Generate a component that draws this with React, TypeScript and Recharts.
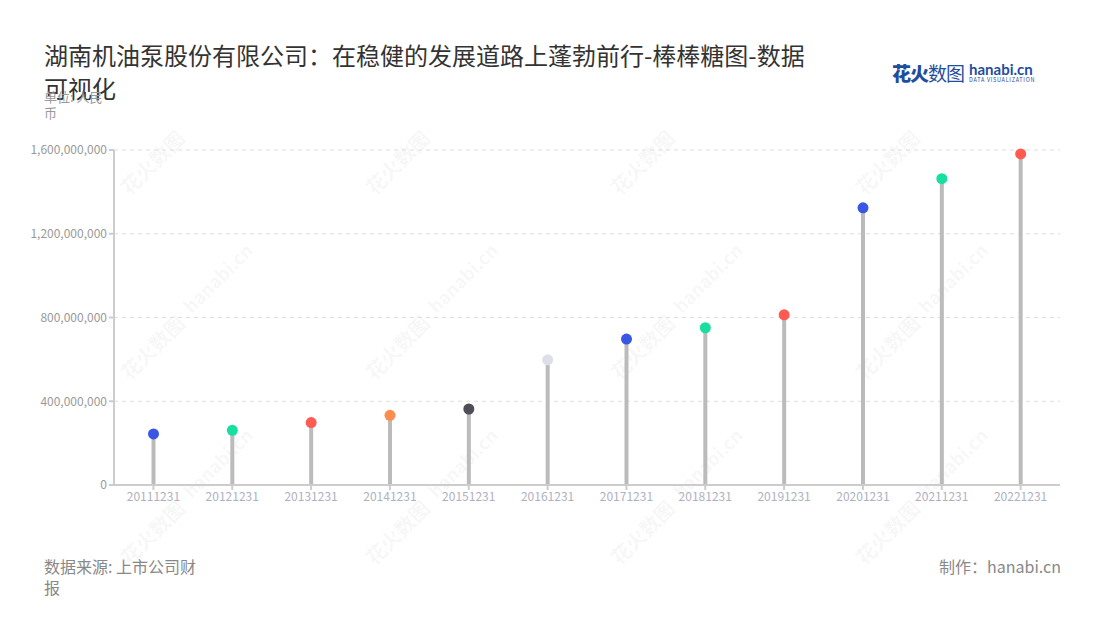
import React from "react";
import { BarChart, Bar, XAxis, YAxis, CartesianGrid, Cell } from "recharts";

const categories = ["20111231","20121231","20131231","20141231","20151231","20161231","20171231","20181231","20191231","20201231","20211231","20221231"];
const values = [244000000, 261000000, 298000000, 333000000, 363000000, 598000000, 697000000, 751000000, 813000000, 1324000000, 1463000000, 1581000000];
const dotColors = ["#3A56E4","#17DFA0","#FF5B50","#FF8C4F","#4F4E58","#DCDFE8","#3A56E4","#17DFA0","#FF5B50","#3A56E4","#17DFA0","#FF5B50"];
const yTicks = [0, 400000000, 800000000, 1200000000, 1600000000];

const data = categories.map((c, i) => ({ date: c, value: values[i] }));

const FONT = '"Noto Sans CJK SC", "Noto Sans", sans-serif';

const Lollipop = (props: any) => {
  const { x, y, width, height, fill } = props;
  const cx = x + width / 2;
  return (
    <g>
      <line x1={cx} x2={cx} y1={y + height} y2={y} stroke="#BBBBBB" strokeWidth={4} />
      <circle cx={cx} cy={y} r={5.5} fill={fill} />
    </g>
  );
};

const fmt = (v: number) => v.toLocaleString("en-US");

const marks: { x: number; y: number; t: string; s: number }[] = [];
const wmX = [150, 395, 640, 885];
const wmY = [160, 345, 530];
wmX.forEach((x) => wmY.forEach((y) => marks.push({ x, y, t: "花火数图", s: 20 })));
wmX.forEach((x) => [275, 460].forEach((y) => marks.push({ x: x + 65, y, t: "hanabi.cn", s: 18 })));

export default function App() {
  return (
    <div style={{ position: "relative", width: 1092, height: 612, fontFamily: FONT, overflow: "hidden" }}>
      <div style={{ position: "absolute", left: 36, top: 30, width: 772, fontSize: 24, lineHeight: "33px", color: "#333" }}>
        湖南机油泵股份有限公司：在稳健的发展道路上蓬勃前行-棒棒糖图-数据可视化
      </div>
      <div style={{ position: "absolute", left: 36, top: 81, width: 66, fontSize: 13, lineHeight: "16px", color: "#999" }}>
        单位: 人民币
      </div>
      <div style={{ position: "absolute", left: 884, top: 51, display: "flex", alignItems: "center" }}>
        <span style={{ fontSize: 19, fontWeight: 900, color: "#1F4E9E", letterSpacing: -1 }}>花火</span>
        <span style={{ fontSize: 19, color: "#1F4E9E", letterSpacing: -1 }}>数图</span>
        <span style={{ display: "flex", flexDirection: "column", marginLeft: 5 }}>
          <span style={{ fontSize: 15, fontWeight: 700, color: "#1F4E9E", lineHeight: "16px", fontFamily: "Lato, sans-serif" }}>hanabi.cn</span>
          <span style={{ fontSize: 5.5, color: "#1F4E9E", lineHeight: "7px", letterSpacing: 0.7 }}>DATA VISUALIZATION</span>
        </span>
      </div>
      <svg style={{ position: "absolute", left: 0, top: 0, pointerEvents: "none" }} width={1092} height={612}>
        {marks.map((m, i) => (
          <text key={i} x={m.x} y={m.y} fontSize={m.s} fill="#000" fillOpacity={0.05} fontWeight={700}
            transform={`rotate(-45 ${m.x} ${m.y})`} textAnchor="middle" fontFamily={FONT}>{m.t}</text>
        ))}
      </svg>
      <div style={{ position: "absolute", left: 0, top: 0 }}>
        <BarChart width={1084} height={600} data={data} margin={{ top: 142, right: 32, bottom: 93, left: 0 }} barCategoryGap={0}>
          <CartesianGrid vertical={false} stroke="#DDDDDD" strokeDasharray="4 4" />
          <XAxis dataKey="date" stroke="#CCCCCC" strokeWidth={2} tickSize={5}
            tick={{ fill: "#AEB1C0", fontSize: 12, fontFamily: FONT }} interval={0} />
          <YAxis domain={[0, 1600000000]} ticks={yTicks} tickFormatter={fmt} width={106} stroke="#CCCCCC" strokeWidth={2}
            tickSize={5} tick={{ fill: "#999999", fontSize: 12, fontFamily: FONT }} />
          <Bar dataKey="value" isAnimationActive={false} shape={<Lollipop />}>
            {data.map((d, i) => (
              <Cell key={d.date} fill={dotColors[i]} />
            ))}
          </Bar>
        </BarChart>
      </div>
      <div style={{ position: "absolute", left: 36, top: 548, width: 162, fontSize: 16, lineHeight: "21px", color: "#888" }}>
        数据来源: 上市公司财报
      </div>
      <div style={{ position: "absolute", right: 39, top: 548, fontSize: 16, lineHeight: "21px", color: "#888" }}>
        制作：hanabi.cn
      </div>
    </div>
  );
}
